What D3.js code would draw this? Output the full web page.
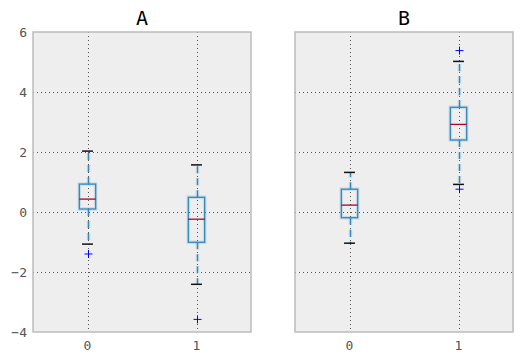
<!DOCTYPE html>
<html>
<head>
<meta charset="utf-8">
<script src="https://cdn.jsdelivr.net/npm/d3@7"></script>
<style>
  body { margin: 0; background: #fff; }
</style>
</head>
<body>
<div id="chart"></div>
<script>
// box stats: [lowCap, q1, median, q3, highCap]
var panels = ["A", "B"];
var categories = ["0", "1"];
var statsA = [[-1.07, 0.10, 0.43, 0.93, 2.03], [-2.41, -1.01, -0.24, 0.49, 1.57]];
var statsB = [[-1.04, -0.19, 0.23, 0.76, 1.32], [0.92, 2.40, 2.92, 3.49, 5.02]];
var outliersA = [[-1.40], [-3.58]];
var outliersB = [[], [5.38, 0.76]];
var yTicks = [-4, -2, 0, 2, 4, 6];

var width = 523, height = 362;
var plotTop = 32, plotBottom = 332;
var lefts = [33, 295], plotW = 218;

var svg = d3.select("#chart").append("svg")
  .attr("width", width)
  .attr("height", height)
  .style("font-family", "'DejaVu Sans Mono', monospace");

var y = d3.scaleLinear().domain([-4, 6]).range([plotBottom, plotTop]);

var allStats = [statsA, statsB];
var allOut = [outliersA, outliersB];

panels.forEach(function(name, p) {
  var x = d3.scaleLinear().domain([-0.5, 1.5]).range([lefts[p], lefts[p] + plotW]);
  var g = svg.append("g");

  // background
  g.append("rect")
    .attr("x", x(-0.5)).attr("y", y(6))
    .attr("width", x(1.5) - x(-0.5)).attr("height", y(-4) - y(6))
    .attr("fill", "#eeeeee");

  // horizontal grid
  g.append("g").selectAll("line").data(yTicks.filter(d => d > -4 && d < 6)).join("line")
    .attr("x1", x(-0.5)).attr("x2", x(1.5))
    .attr("y1", d => Math.round(y(d)) + 0.5).attr("y2", d => Math.round(y(d)) + 0.5)
    .attr("stroke", "#555").attr("stroke-width", 1).attr("stroke-dasharray", "1,3");

  // vertical grid
  g.append("g").selectAll("line").data([0, 1]).join("line")
    .attr("x1", d => Math.round(x(d)) + 0.5).attr("x2", d => Math.round(x(d)) + 0.5)
    .attr("y1", y(6)).attr("y2", y(-4))
    .attr("stroke", "#555").attr("stroke-width", 1).attr("stroke-dasharray", "1,3");

  var stats = allStats[p];
  var bw = 0.075, cw = 0.05;

  stats.forEach(function(s, i) {
    var cx = Math.round(x(i)) + 0.5;
    var bg = g.append("g");
    // whiskers
    [[s[1], s[0]], [s[3], s[4]]].forEach(function(w) {
      bg.append("line")
        .attr("x1", cx).attr("x2", cx).attr("y1", y(w[0])).attr("y2", y(w[1]))
        .attr("stroke", "#348ABD").attr("stroke-opacity", 0.2).attr("stroke-width", 3.5)
        .attr("stroke-dasharray", "7,5");
      bg.append("line")
        .attr("x1", cx).attr("x2", cx).attr("y1", y(w[0])).attr("y2", y(w[1]))
        .attr("stroke", "#348ABD").attr("stroke-width", 1.3)
        .attr("stroke-dasharray", "7,5");
    });
    // caps
    [s[0], s[4]].forEach(function(c) {
      bg.append("line")
        .attr("x1", x(i - cw)).attr("x2", x(i + cw))
        .attr("y1", y(c)).attr("y2", y(c))
        .attr("stroke", "#111").attr("stroke-width", 1.5);
    });
    // box glow + box
    bg.append("rect")
      .attr("x", x(i - bw)).attr("y", y(s[3]))
      .attr("width", x(i + bw) - x(i - bw)).attr("height", y(s[1]) - y(s[3]))
      .attr("fill", "none").attr("stroke", "#348ABD").attr("stroke-opacity", 0.2).attr("stroke-width", 3.5);
    bg.append("rect")
      .attr("x", x(i - bw)).attr("y", y(s[3]))
      .attr("width", x(i + bw) - x(i - bw)).attr("height", y(s[1]) - y(s[3]))
      .attr("fill", "none").attr("stroke", "#348ABD").attr("stroke-width", 1.3);
    // median
    bg.append("line")
      .attr("x1", x(i - bw)).attr("x2", x(i + bw))
      .attr("y1", y(s[2])).attr("y2", y(s[2]))
      .attr("stroke", "#A60628").attr("stroke-width", 1.3);
    // outliers
    allOut[p][i].forEach(function(o) {
      var oy = y(o);
      bg.append("path")
        .attr("d", `M${cx - 4},${oy}H${cx + 4}M${cx},${oy - 4}V${oy + 4}`)
        .attr("stroke", "#0000ff").attr("stroke-width", 1);
    });
  });

  // frame
  g.append("rect")
    .attr("x", x(-0.5)).attr("y", y(6))
    .attr("width", x(1.5) - x(-0.5)).attr("height", y(-4) - y(6))
    .attr("fill", "none").attr("stroke", "#bcbcbc").attr("stroke-width", 1.5);

  // x tick labels
  g.append("g").selectAll("text").data(categories).join("text")
    .attr("x", (d, i) => x(i)).attr("y", 350)
    .attr("text-anchor", "middle")
    .attr("fill", "#555").style("font-size", "13px")
    .text(d => d);

  // title
  g.append("text")
    .attr("x", x(0.5)).attr("y", 25)
    .attr("text-anchor", "middle")
    .attr("fill", "#000")
    .style("font-size", "20px")
    .text(name);

  // y tick labels only on the first panel
  if (p === 0) {
    g.append("g").selectAll("text").data(yTicks).join("text")
      .attr("x", 27).attr("y", d => y(d) + 4.5)
      .attr("text-anchor", "end")
      .attr("fill", "#555").style("font-size", "13px")
      .text(d => d < 0 ? "\u2212" + Math.abs(d) : d);
  }
});
</script>
</body>
</html>
